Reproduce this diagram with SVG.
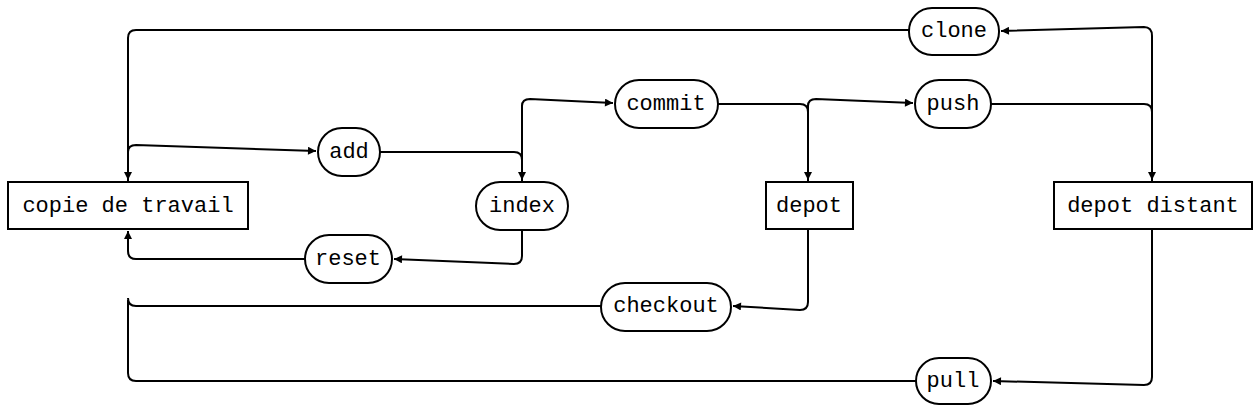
<svg xmlns="http://www.w3.org/2000/svg" width="1260" height="410" viewBox="0 0 1260 410">
<style>
.n{fill:#fff;stroke:#000;stroke-width:2}
.t{font-family:"Liberation Mono","DejaVu Sans Mono",monospace;font-size:22px;text-anchor:middle;dominant-baseline:central;fill:#000}
.c{fill:none;stroke:#000;stroke-width:2;stroke-linejoin:round}
</style>
<defs>
<marker id="a" viewBox="0 0 10 10" refX="10" refY="5" markerWidth="10" markerHeight="8" markerUnits="userSpaceOnUse" orient="auto"><path d="M0,0L10,5L0,10z" fill="#000"/></marker>
</defs>
<rect width="1260" height="410" fill="#fff"/>
<g id="connectors">
<path class="c" d="M909,30 H136 Q128,30 128,38 V180" marker-end="url(#a)"/>
<path class="c" d="M1152,182 V36 Q1152,27 1144,27 L1001,31" marker-end="url(#a)"/>
<path class="c" d="M128,182 V152 Q128,145 136,145 L316,151" marker-end="url(#a)"/>
<path class="c" d="M380,152 H514 Q522,152 522,160 V180" marker-end="url(#a)"/>
<path class="c" d="M522,182 V106 Q522,99 530,99 L613,103" marker-end="url(#a)"/>
<path class="c" d="M718,104 H800 Q808,104 808,112 V180" marker-end="url(#a)"/>
<path class="c" d="M808,182 V106 Q808,99 816,99 L913,103" marker-end="url(#a)"/>
<path class="c" d="M991,104 H1144 Q1152,104 1152,112 V180" marker-end="url(#a)"/>
<path class="c" d="M522,230 V256 Q522,264 514,264 L394,259" marker-end="url(#a)"/>
<path class="c" d="M305,259 H136 Q128,259 128,251 V231" marker-end="url(#a)"/>
<path class="c" d="M808,229 V302 Q808,310 800,310 L733,306" marker-end="url(#a)"/>
<path class="c" d="M601,306 H136 Q128,306 128,298"/>
<path class="c" d="M1152,229 V377 Q1152,385 1144,385 L993,381" marker-end="url(#a)"/>
<path class="c" d="M916,381 H136 Q128,381 128,373 V300"/>
</g>
<g id="copie"><rect class="n" x="8" y="182" width="240" height="47"/><text class="t" x="128" y="206">copie de travail</text></g>
<g id="index"><rect class="n" x="476" y="182" width="92" height="48" rx="24"/><text class="t" x="522" y="206">index</text></g>
<g id="depot"><rect class="n" x="766" y="182" width="87" height="47"/><text class="t" x="809" y="206">depot</text></g>
<g id="distant"><rect class="n" x="1054" y="182" width="198" height="47"/><text class="t" x="1153" y="206">depot distant</text></g>
<g id="add"><rect class="n" x="318" y="128" width="62" height="48" rx="24"/><text class="t" x="349" y="152">add</text></g>
<g id="commit"><rect class="n" x="615" y="80" width="103" height="48" rx="24"/><text class="t" x="666" y="104">commit</text></g>
<g id="push"><rect class="n" x="915" y="80" width="76" height="48" rx="24"/><text class="t" x="953" y="104">push</text></g>
<g id="clone"><rect class="n" x="909" y="8" width="90" height="47" rx="23"/><text class="t" x="954" y="31">clone</text></g>
<g id="reset"><rect class="n" x="305" y="235" width="87" height="48" rx="24"/><text class="t" x="348" y="259">reset</text></g>
<g id="checkout"><rect class="n" x="601" y="283" width="130" height="48" rx="24"/><text class="t" x="666" y="306">checkout</text></g>
<g id="pull"><rect class="n" x="916" y="358" width="75" height="46" rx="23"/><text class="t" x="953" y="381">pull</text></g>
</svg>
